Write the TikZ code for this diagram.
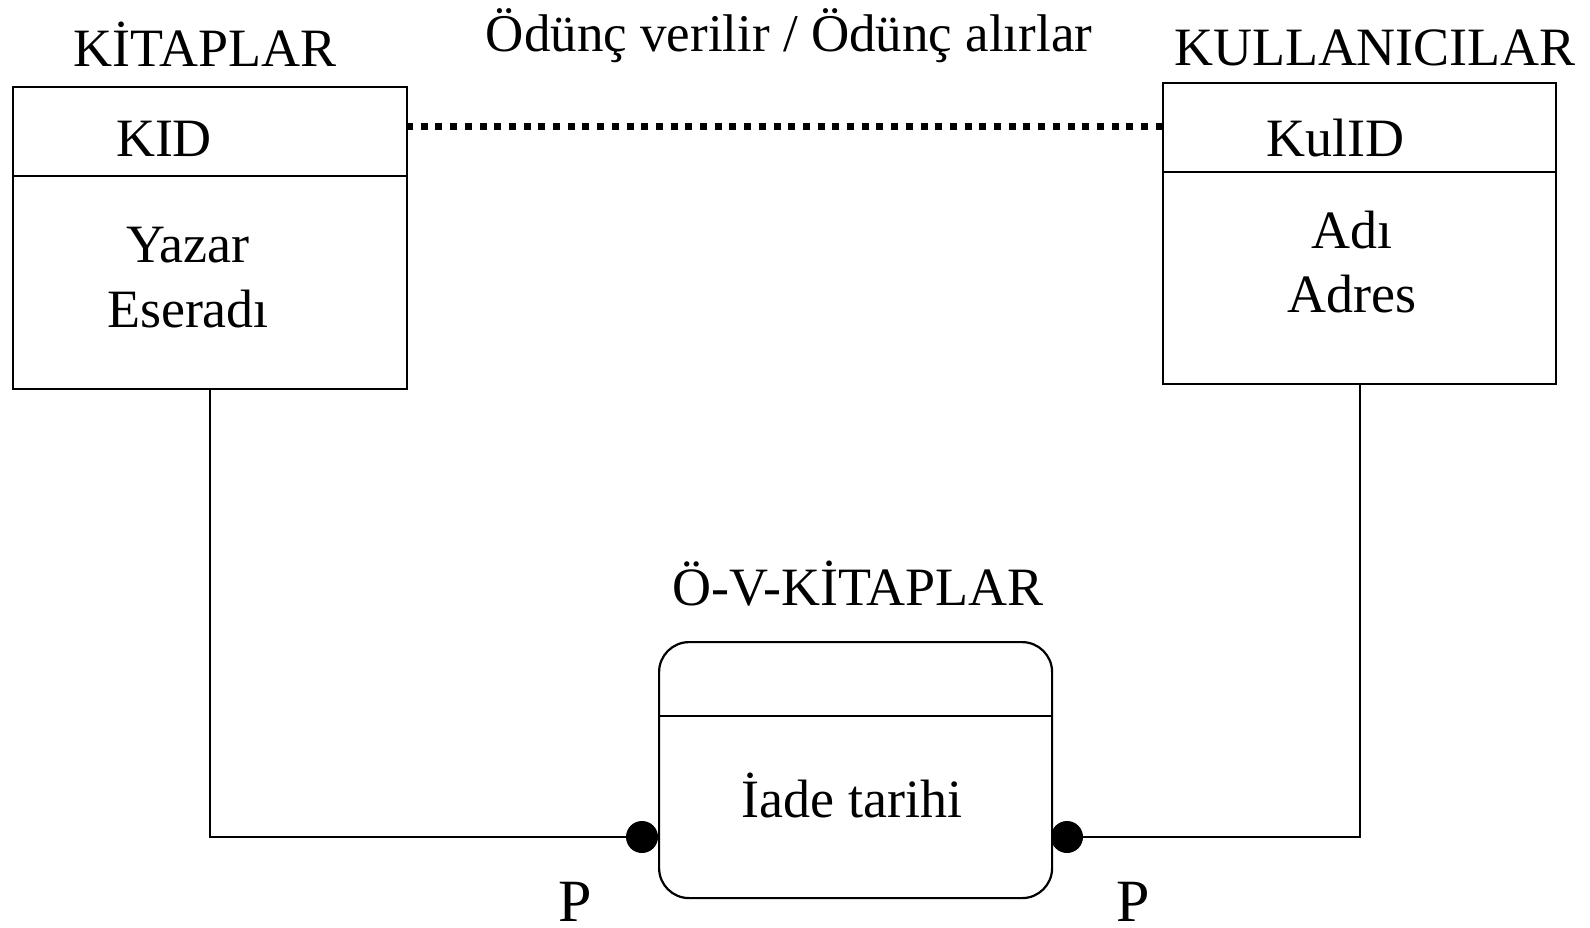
\documentclass[tikz,border=0pt]{standalone}
\usepackage{fontspec}
\setmainfont{Liberation Serif}
\begin{document}
\begin{tikzpicture}[x=1pt,y=-1pt,
  entity/.style={draw, line width=2.2pt, rectangle, inner sep=0pt, anchor=north west},
  rel/.style={draw, line width=2.2pt, rectangle, rounded corners=30pt, inner sep=0pt, anchor=north west},
  lbl/.style={anchor=base, inner sep=0pt, font=\fontsize{54}{62}\selectfont},
  toplbl/.style={anchor=base, inner sep=0pt, font=\fontsize{53}{60}\selectfont},
  plbl/.style={anchor=base, inner sep=0pt, text depth=0pt, font=\fontsize{60}{70}\selectfont},
  conn/.style={line width=2pt},
  sep/.style={line width=2.2pt},
  dotline/.style={line width=7pt, dash pattern=on 7pt off 7.7pt},
  bullet/.style={circle, fill=black, inner sep=0pt, minimum size=32pt}
]
\useasboundingbox (0,0) rectangle (1590,928);

% entity boxes
\node[entity, minimum width=394pt, minimum height=302pt] (kbox) at (12,86) {};
\node[entity, minimum width=393pt, minimum height=301pt] (ubox) at (1162,82) {};
\node[rel, minimum width=393pt, minimum height=256pt] (obox) at (658,641) {};

% dividers
\draw[sep] (12,176) -- (406,176);
\draw[sep] (1162,172) -- (1555,172);
\draw[sep] (658,716) -- (1051,716);

% titles
\node[lbl] (kt) at (205,67) {KİTAPLAR};
\node[lbl] (ut) at (1375,66) {KULLANICILAR};
\node[lbl] (ot) at (858,605) {Ö-V-KİTAPLAR};
\node[toplbl] (rt) at (789,52) {Ödünç verilir / Ödünç alırlar};

% attributes
\node[lbl] (kid) at (164,157) {KID};
\node[lbl] (yaz) at (188,262) {Yazar};
\node[lbl] (ese) at (188,327) {Eseradı};
\node[lbl] (kul) at (1335,157) {KulID};
\node[lbl] (adi) at (1352,248) {Adı};
\node[lbl] (adr) at (1352,312) {Adres};
\node[lbl] (iade) at (852,817) {İade tarihi};

% dotted relationship line
\coordinate (d1) at (406,127);
\coordinate (d2) at (1162,127);
\draw[dotline] (d1) -- (d2);

% participation dots
\node[bullet] (dl) at (642,837) {};
\node[bullet] (dr) at (1067,837) {};

% connectors
\draw[conn] (kbox.south) |- (dl);
\draw[conn] (ubox.south) |- (dr);

% P labels
\node[plbl] (pl) at (575,921) {P};
\node[plbl] (pr) at (1133,921) {P};
\end{tikzpicture}
\end{document}
